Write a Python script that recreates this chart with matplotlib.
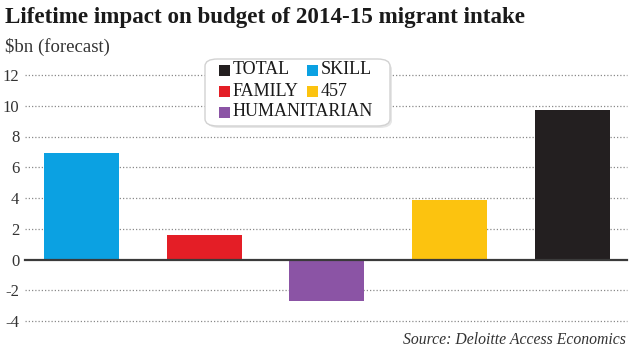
import matplotlib.pyplot as plt
from matplotlib.patches import FancyBboxPatch, Rectangle

# data ($bn, forecast)
categories = ['SKILL', 'FAMILY', 'HUMANITARIAN', '457', 'TOTAL']
values = [6.9, 1.6, -2.7, 3.9, 9.7]
colors = ['#0ba1e2', '#e41e26', '#8b54a5', '#fcc30f', '#231f20']
yticks = [-4, -2, 0, 2, 4, 6, 8, 10, 12]

# legend order as in the picture
legend_rows = [('TOTAL', 'SKILL'), ('FAMILY', '457'), ('HUMANITARIAN', None)]

plt.rcParams['font.family'] = ['Liberation Serif', 'DejaVu Serif']

fig = plt.figure(figsize=(6.32, 3.56), dpi=100)
W, H = 632, 356

# axes placed so that y=12 sits at px 75 and y=-4 at px 321
ax = fig.add_axes([25 / W, 1 - 321 / H, (627 - 25) / W, (321 - 75) / H])
ax.set_ylim(-4, 12)
ax.set_xlim(-0.46, 4.445)

x = range(len(categories))
ax.bar(x, values, width=0.61, color=colors, zorder=3)

# grid and zero line
for t in yticks:
    if t == 0:
        ax.axhline(0, color='#3a3a3a', lw=1.6, zorder=4, clip_on=False)
    else:
        ax.axhline(t, color='#8a8a8a', lw=0.9, ls=(0, (1, 1.6)), zorder=1, clip_on=False)

ax.set_yticks(yticks)
ax.set_yticklabels([str(t) for t in yticks], fontsize=12, color='#333333')
ax.tick_params(axis='y', length=0, pad=4)
ax.set_xticks([])
for s in ax.spines.values():
    s.set_visible(False)

# title, subtitle, source
fig.text(5 / W, 1 - 18 / H, 'Lifetime impact on budget of 2014-15 migrant intake',
         fontsize=16.6, fontweight='bold', va='center', ha='left', color='#1a1a1a')
fig.text(5 / W, 1 - 47 / H, '\\$bn (forecast)', fontsize=13.5, va='center',
         ha='left', color='#333333')
fig.text(626 / W, 1 - 340 / H, 'Source: Deloitte Access Economics', fontsize=11.3,
         style='italic', va='center', ha='right', color='#333333')

# hand-built legend box with a soft shadow
shadow = FancyBboxPatch((207 / W, 1 - 128 / H), 185 / W, 66 / H,
                        boxstyle='round,pad=0,rounding_size=0.02',
                        transform=fig.transFigure, facecolor='#e6e6e6',
                        edgecolor='none', zorder=9)
fig.patches.append(shadow)
box = FancyBboxPatch((205 / W, 1 - 126 / H), 185 / W, 67 / H,
                     boxstyle='round,pad=0,rounding_size=0.02',
                     transform=fig.transFigure, facecolor='white',
                     edgecolor='#d2d2d2', lw=1.0, zorder=10)
fig.patches.append(box)
color_of = dict(zip(categories, colors))
row_y = [70, 91, 112]
col_x = [219, 307]
for r, row in enumerate(legend_rows):
    for c, name in enumerate(row):
        if name is None:
            continue
        px, py = col_x[c], row_y[r]
        sq = Rectangle((px / W, 1 - (py + 5.5) / H), 11 / W, 11 / H,
                       transform=fig.transFigure, facecolor=color_of[name],
                       edgecolor='none', zorder=11)
        fig.patches.append(sq)
        fig.text((px + 14) / W, 1 - py / H, name, fontsize=13, va='center',
                 ha='left', color='#1a1a1a', zorder=12)

fig.savefig('out.png', dpi=100, facecolor='white')
